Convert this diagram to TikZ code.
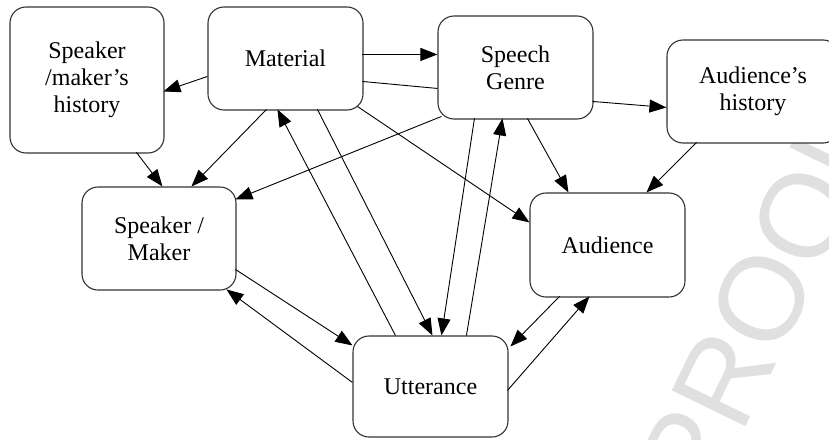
\documentclass[tikz,border=0pt]{standalone}
\usepackage{fontspec}
\setmainfont{Liberation Serif}
\newfontfamily\wmfont{Liberation Sans}
\usetikzlibrary{arrows.meta,calc}
\tikzset{
  box/.style={draw=black!80, line width=1.1pt, rounded corners=16pt, fill=white,
    minimum width=155pt, minimum height=103pt, inner sep=0pt, align=center,
    font=\fontsize{24}{27}\selectfont},
  conn/.style={line width=0.9pt, draw=black, -{Triangle[length=17pt,width=13pt]}},
  plain/.style={line width=0.9pt, draw=black},
  wm/.style={text=black!12, font=\wmfont\fontsize{119}{119}\selectfont, inner sep=0pt}
}
\begin{document}
\begin{tikzpicture}[x=1pt,y=-1pt]
\path[use as bounding box] (0,0) rectangle (829,439);
\clip (0,0) rectangle (829,439);
\fill[white] (0,0) rectangle (829,439);
% watermark
\node[wm, rotate=64, anchor=base] (wmk) at (799,317) {PROOF};
% nodes
\node[box, minimum width=154pt, minimum height=146pt] (hist) at (87,80) {Speaker\\/maker’s\\history};
\node[box] (mat) at (285.5,58.5) {Material};
\node[box] (genre) at (515.5,67.5) {Speech\\Genre};
\node[box, minimum width=172pt] (ahist) at (753,91.5) {Audience’s\\history};
\node[box, minimum width=154pt] (spk) at (159,238.5) {Speaker /\\Maker};
\node[box, minimum height=104pt] (aud) at (607.5,245) {Audience};
\node[box, minimum height=101pt] (utt) at (430.5,386.5) {Utterance};
% connectors
\draw[conn] ($(mat.north west)+(0,70)$) -- ($(hist.north west)+(154,85)$);
\draw[conn] ($(mat.north west)+(155,48)$) -- ($(genre.north west)+(0,39)$);
\draw[plain] ($(mat.north west)+(155,75)$) -- ($(genre.north west)+(0,73)$);
\draw[conn] ($(mat.north west)+(59,103)$) -- ($(spk.north west)+(110,0)$);
\draw[conn] ($(hist.north west)+(127,146)$) -- ($(spk.north west)+(81,0)$);
\draw[conn] ($(utt.north west)+(43,0)$) -- ($(mat.north west)+(70,103)$);
\draw[conn] ($(mat.north west)+(110,103)$) -- ($(utt.north west)+(80,0)$);
\draw[conn] ($(genre.north west)+(37,103)$) -- ($(utt.north west)+(89,0)$);
\draw[conn] ($(utt.north west)+(114,0)$) -- ($(genre.north west)+(65,103)$);
\draw[conn] ($(mat.north west)+(150,100)$) -- ($(aud.north west)+(0,30)$);
\draw[conn] ($(genre.north west)+(4,101)$) -- ($(spk.north west)+(154,13)$);
\draw[conn] ($(genre.north west)+(90,103)$) -- ($(aud.north west)+(39,0)$);
\draw[conn] ($(genre.north west)+(155,86)$) -- ($(ahist.north west)+(0,68)$);
\draw[conn] ($(ahist.north west)+(30,103)$) -- ($(aud.north west)+(117,0)$);
\draw[conn] ($(spk.north west)+(154,83)$) -- ($(utt.north west)+(0,10)$);
\draw[conn] ($(utt.north west)+(0,47)$) -- ($(spk.north west)+(145,103)$);
\draw[conn] ($(aud.north west)+(30,104)$) -- ($(utt.north west)+(158,11)$);
\draw[conn] ($(utt.north west)+(155,55)$) -- ($(aud.north west)+(60,104)$);
\end{tikzpicture}
\end{document}
